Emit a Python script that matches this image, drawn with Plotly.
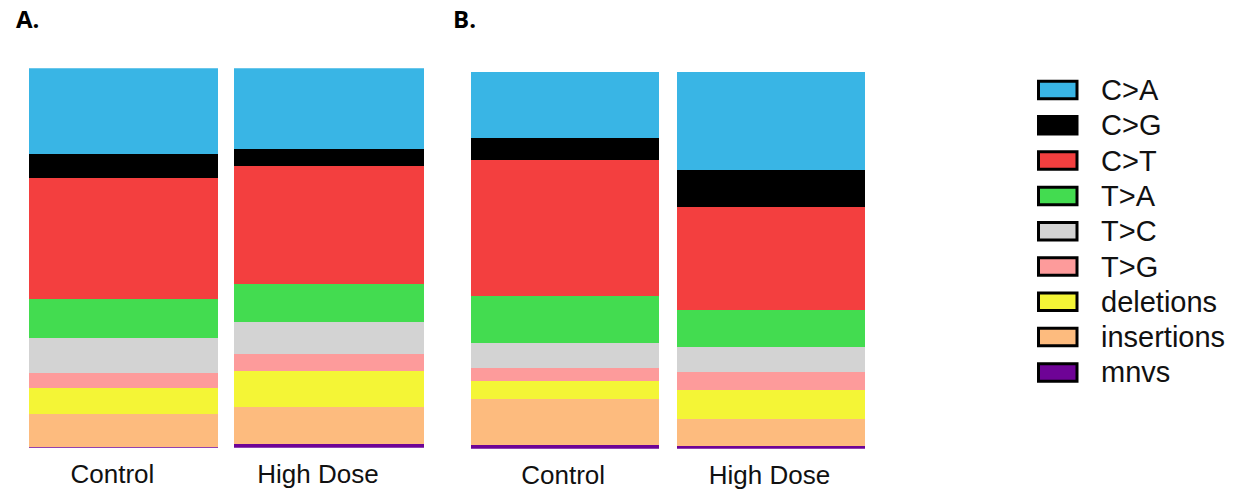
import plotly.graph_objects as go

# Mutation categories, top of the stack first
mutation_types = ["C>A", "C>G", "C>T", "T>A", "T>C", "T>G",
                  "deletions", "insertions", "mnvs"]
colors = ["#39B5E5", "#000000", "#F33F3F", "#43DC50", "#D3D3D3",
          "#FD9B9B", "#F4F536", "#FDBB7E", "#6E0396"]
groups = ["Control", "High Dose"]

# Share of each mutation type (%), same order as mutation_types
a_control = [22.6, 6.2, 31.9, 10.4, 9.1, 4.0, 6.9, 8.6, 0.3]
a_high = [21.4, 4.4, 31.0, 10.0, 8.4, 4.7, 9.5, 9.5, 1.1]
b_control = [17.7, 5.8, 35.9, 12.5, 6.7, 3.4, 4.8, 12.2, 1.0]
b_high = [26.0, 9.8, 27.3, 10.0, 6.5, 4.9, 7.6, 7.1, 0.8]

W, H = 1248, 490


def px_x(v):
    return v / W


def px_y(v):
    return 1 - v / H


fig = go.Figure()

panels = [
    ("x", "y", a_control, a_high, 0.922),
    ("x2", "y2", b_control, b_high, 0.911),
]
# stack from the bottom up: mnvs first, C>A last
for xa, ya, ctrl, high, bw in panels:
    for i in reversed(range(len(mutation_types))):
        fig.add_trace(go.Bar(
            x=groups, y=[ctrl[i], high[i]],
            name=mutation_types[i], marker_color=colors[i],
            marker_line_width=0, width=bw,
            xaxis=xa, yaxis=ya, showlegend=False,
        ))

axis_font = dict(family="Liberation Sans, Arial, sans-serif", size=26, color="#111111")
xcommon = dict(showgrid=False, zeroline=False, showline=False, ticks="outside",
               ticklen=3, tickcolor="rgba(0,0,0,0)", tickfont=axis_font,
               range=[-0.5, 1.5], fixedrange=True, automargin=False)
ycommon = dict(visible=False, range=[0, 100], fixedrange=True, automargin=False)

fig.update_layout(
    width=W, height=H,
    margin=dict(l=0, r=0, t=0, b=0, autoexpand=False),
    paper_bgcolor="white", plot_bgcolor="white",
    barmode="stack",
    xaxis=dict(domain=[px_x(20.6), px_x(431.8)], anchor="y",
               ticklabelshift=-11, **xcommon),
    yaxis=dict(domain=[px_y(447.7), px_y(68.3)], anchor="x", **ycommon),
    xaxis2=dict(domain=[px_x(462.0), px_x(874.6)], anchor="y2",
                ticklabelshift=-2, **xcommon),
    yaxis2=dict(domain=[px_y(448.7), px_y(71.5)], anchor="x2", **ycommon),
    showlegend=False,
)

# panel letters
for label, xpos in [("A.", 14), ("B.", 451)]:
    fig.add_annotation(
        text=label, xref="paper", yref="paper",
        x=px_x(xpos), y=px_y(18.5), xanchor="left", yanchor="middle",
        showarrow=False,
        font=dict(family="Open Sans, Liberation Sans, sans-serif", size=24,
                  color="black", weight="bold"),
    )

# legend: outlined swatch plus label for each mutation type
row0, row_step = 90.0, 35.3
sw_x0, sw_x1, sw_h = 1038.5, 1077.0, 17.5
for i, (name, col) in enumerate(zip(mutation_types, colors)):
    cy = row0 + i * row_step
    fig.add_shape(
        type="rect", xref="paper", yref="paper",
        x0=px_x(sw_x0), x1=px_x(sw_x1),
        y0=px_y(cy + sw_h / 2), y1=px_y(cy - sw_h / 2),
        fillcolor=col, line=dict(color="black", width=3),
    )
    fig.add_annotation(
        text=name, xref="paper", yref="paper",
        x=px_x(1099), y=px_y(cy), xanchor="left", yanchor="middle",
        showarrow=False,
        font=dict(family="Liberation Sans, Arial, sans-serif", size=29,
                  color="#111111"),
    )

fig.write_html("out.html")
